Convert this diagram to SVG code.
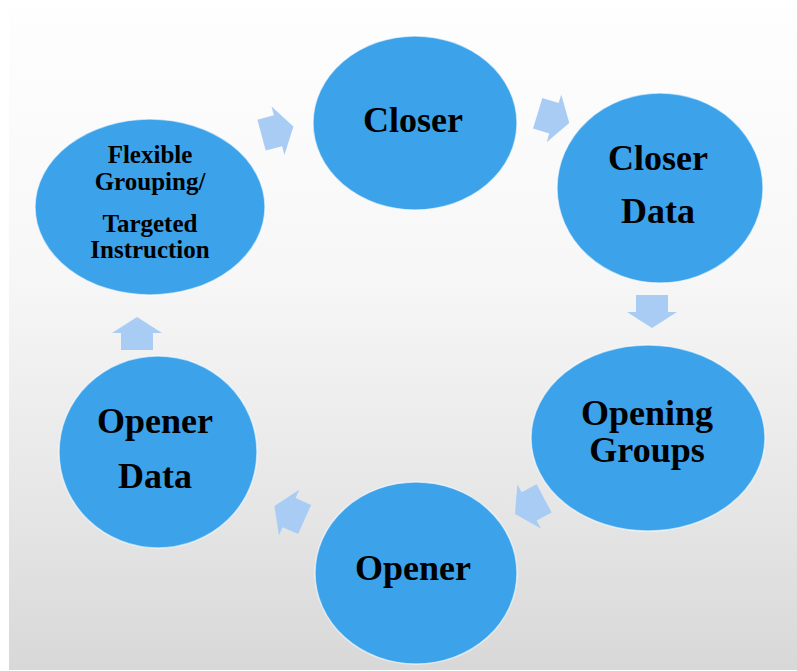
<svg xmlns="http://www.w3.org/2000/svg" width="797" height="671" viewBox="0 0 797 671">
<defs>
<linearGradient id="bg" x1="0" y1="0" x2="0" y2="1">
<stop offset="0" stop-color="#fefefe"/>
<stop offset="0.4" stop-color="#f7f7f7"/>
<stop offset="0.75" stop-color="#e6e6e6"/>
<stop offset="1" stop-color="#d8d8d8"/>
</linearGradient>
<path id="arr" d="M-16,-16 L1,-16 L1,-25 L17,0 L1,25 L1,16 L-16,16 Z"/>
</defs>
<style>
.node{fill:#3ca2ea;stroke:#ffffff;stroke-opacity:0.6;stroke-width:1.5}
.lbl{font-family:"Liberation Serif","Times New Roman",serif;font-weight:bold;fill:#000;text-anchor:middle}
.big{font-size:36px}
.small{font-size:25px}
.arrow{fill:#a9ccf4}
</style>
<rect x="0" y="0" width="797" height="671" fill="#ffffff"/>
<rect x="9" y="7" width="788" height="663" fill="url(#bg)"/>
<g id="connectors">
<use href="#arr" class="arrow" transform="translate(277,131) rotate(-15)"/>
<use href="#arr" class="arrow" transform="translate(553,118) rotate(17)"/>
<use href="#arr" class="arrow" transform="translate(652,311) rotate(90)"/>
<use href="#arr" class="arrow" transform="translate(530,506) rotate(152)"/>
<use href="#arr" class="arrow" transform="translate(290,513) rotate(204)"/>
<use href="#arr" class="arrow" transform="translate(137,334) rotate(-90)"/>
</g>
<g id="closer">
<ellipse class="node" cx="415" cy="123" rx="102" ry="87"/>
<text class="lbl big" x="413" y="132">Closer</text>
</g>
<g id="closer-data">
<ellipse class="node" cx="660" cy="188" rx="103" ry="95"/>
<text class="lbl big" x="658" y="170">Closer</text>
<text class="lbl big" x="658" y="223">Data</text>
</g>
<g id="opening-groups">
<ellipse class="node" cx="648" cy="438" rx="117" ry="93"/>
<text class="lbl big" x="647" y="425">Opening</text>
<text class="lbl big" x="647" y="462">Groups</text>
</g>
<g id="opener">
<ellipse class="node" cx="416" cy="573" rx="101" ry="91"/>
<text class="lbl big" x="413" y="580">Opener</text>
</g>
<g id="opener-data">
<ellipse class="node" cx="158" cy="452" rx="99" ry="96"/>
<text class="lbl big" x="155" y="433">Opener</text>
<text class="lbl big" x="155" y="488">Data</text>
</g>
<g id="flexible-grouping">
<ellipse class="node" cx="150" cy="207" rx="115" ry="88"/>
<text class="lbl small" x="150" y="163">Flexible</text>
<text class="lbl small" x="150" y="190">Grouping/</text>
<text class="lbl small" x="150" y="232">Targeted</text>
<text class="lbl small" x="150" y="258">Instruction</text>
</g>
</svg>
